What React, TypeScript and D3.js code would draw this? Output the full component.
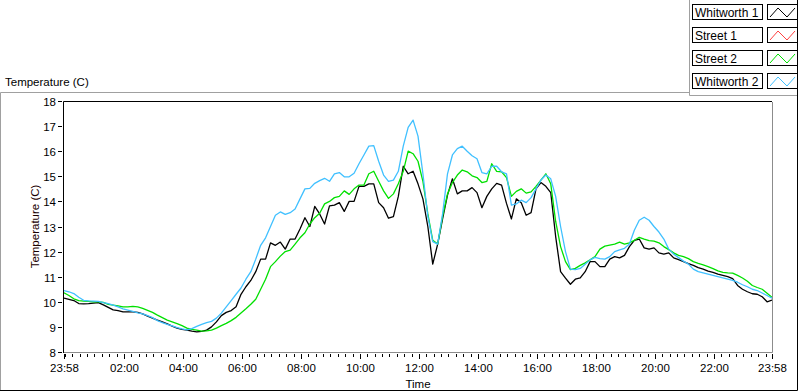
import { useEffect, useRef } from "react";
import * as d3 from "d3";

// 10-minute samples, 23:58 -> 23:58 next day
const whitworth1 = [
  10.15, 10.1, 10.05, 9.93, 9.92, 9.93, 9.95, 9.97, 9.88, 9.78,
  9.68, 9.65, 9.6, 9.6, 9.6, 9.58, 9.52, 9.43, 9.35, 9.27,
  9.2, 9.12, 9.03, 8.95, 8.9, 8.87, 8.83, 8.8, 8.82, 8.87,
  9.0, 9.2, 9.45, 9.58, 9.65, 9.8, 10.3, 10.6, 10.85, 11.2,
  11.7, 11.7, 12.35, 12.25, 12.38, 12.1, 12.5, 12.5, 12.9, 13.35,
  13.0, 13.8, 13.5, 13.1, 13.82, 13.85, 13.95, 13.6, 14.0, 14.0,
  14.6, 14.6, 14.7, 14.7, 13.95, 13.75, 13.33, 13.39, 14.2, 15.4,
  15.1, 15.2, 14.7, 14.1, 13.0, 11.5, 12.3, 13.3, 14.25, 14.9,
  14.3, 14.42, 14.42, 14.55, 14.35, 13.75, 14.2, 14.5, 14.72, 14.65,
  13.92, 13.3, 14.1, 13.95, 13.45, 13.55, 14.5, 14.75, 14.6, 14.35,
  12.6, 11.2, 10.94, 10.7, 10.9, 10.95, 11.2, 11.6, 11.6, 11.4,
  11.4, 11.7, 11.8, 11.75, 11.85, 12.2, 12.45, 12.5, 12.15, 12.1,
  12.15, 11.95, 11.9, 11.95, 11.75, 11.68, 11.6, 11.52, 11.45, 11.36,
  11.3, 11.22, 11.17, 11.1, 11.05, 11.0, 10.92, 10.65, 10.5, 10.4,
  10.32, 10.3, 10.2, 10.0, 10.07
];

const street1: number[] = [];

const street2 = [
  10.36, 10.25, 10.12, 10.05, 10.03, 10.02, 10.0, 10.0, 9.98, 9.9,
  9.87, 9.84, 9.8, 9.8, 9.82, 9.8, 9.74, 9.66, 9.58, 9.47,
  9.37, 9.27, 9.2, 9.13, 9.05, 8.95, 8.9, 8.87, 8.83, 8.84,
  8.87, 8.95, 9.05, 9.14, 9.25, 9.38, 9.55, 9.72, 9.9, 10.1,
  10.5, 10.9, 11.4, 11.6, 11.82, 12.0, 12.06, 12.3, 12.55, 12.75,
  13.1, 13.35, 13.53, 13.9, 14.0, 14.15, 14.2, 14.42, 14.28, 14.5,
  14.65, 14.65, 15.1, 15.2, 14.8, 14.42, 14.12, 14.3, 14.7, 15.2,
  16.0, 15.9, 15.6, 14.8, 13.5, 12.45, 12.3, 13.4, 14.3, 14.75,
  15.05, 15.25, 15.18, 15.02, 14.95, 14.75, 14.8, 15.5, 15.2, 15.18,
  14.95, 14.2, 14.4, 14.5, 14.33, 14.38, 14.6, 14.85, 15.1, 14.7,
  13.2, 12.2, 11.6, 11.28, 11.33, 11.45, 11.55, 11.67, 11.8, 12.1,
  12.22, 12.26, 12.3, 12.38, 12.3, 12.35, 12.45, 12.57, 12.5, 12.44,
  12.42, 12.35, 12.2, 12.08, 11.95, 11.85, 11.8, 11.72, 11.6, 11.53,
  11.47, 11.4, 11.32, 11.23, 11.17, 11.15, 11.14, 11.05, 10.95, 10.82,
  10.65, 10.57, 10.5, 10.34, 10.18
];

const whitworth2 = [
  10.45, 10.4, 10.33, 10.18, 10.06, 10.04, 10.03, 10.02, 9.97, 9.93,
  9.87, 9.8, 9.72, 9.67, 9.62, 9.56, 9.52, 9.45, 9.37, 9.25,
  9.17, 9.1, 9.04, 8.97, 8.92, 8.88, 8.93, 9.02, 9.1, 9.17,
  9.22, 9.35, 9.55, 9.8, 10.05, 10.3, 10.55, 10.9, 11.2, 11.7,
  12.25, 12.55, 13.0, 13.45, 13.58, 13.48, 13.55, 13.7, 14.1, 14.5,
  14.52, 14.72, 14.83, 14.92, 14.8, 15.1, 15.15, 14.98, 14.98, 15.12,
  15.5, 15.85, 16.2, 16.22, 15.6, 15.05, 14.8, 14.85, 15.2, 16.2,
  16.95, 17.24, 16.6, 15.1, 13.4, 12.4, 12.3, 13.5, 15.1, 15.85,
  16.1, 16.2, 16.0, 15.82, 15.7, 15.15, 15.1, 15.4, 15.4, 15.18,
  15.1, 13.85, 13.9, 14.05, 13.95, 14.15, 14.5, 14.85, 15.05, 14.9,
  14.2, 13.0, 12.0, 11.3, 11.28, 11.33, 11.5, 11.67, 11.77, 11.72,
  11.7, 11.8, 12.0, 12.07, 12.13, 12.3, 12.85, 13.25, 13.37, 13.25,
  13.0, 12.78, 12.5, 12.1, 11.9, 11.76, 11.62, 11.5, 11.3, 11.2,
  11.15, 11.1, 11.05, 11.0, 10.95, 10.9, 10.85, 10.78, 10.68, 10.6,
  10.5, 10.45, 10.35, 10.25, 10.14
];

const seriesNames = ["Whitworth 1", "Street 1", "Street 2", "Whitworth 2"];
const seriesColors = ["#000000", "#ff4040", "#00e000", "#40c0ff"];
const seriesData = [whitworth1, street1, street2, whitworth2];

const yTicks = [8, 9, 10, 11, 12, 13, 14, 15, 16, 17, 18];

const START = new Date(2013, 6, 1, 23, 58);
const END = new Date(2013, 6, 2, 23, 58);
const STEP_MS = 10 * 60 * 1000;

const FONT = "'Liberation Sans', Arial, sans-serif";

export default function App() {
  const ref = useRef<SVGSVGElement | null>(null);

  useEffect(() => {
    const svg = d3.select(ref.current);
    const W = 800, H = 392;
    const m = { l: 64, r: 772, t: 101, b: 352 };
    svg.attr("viewBox", `0 0 ${W} ${H}`);
    svg.selectAll("*").remove();

    svg.append("rect").attr("width", W).attr("height", H).attr("fill", "#fff");

    // panel frame
    svg.append("path")
      .attr("d", "M0.5,391 V92.5 H689.5 V95.5 H797")
      .attr("fill", "none").attr("stroke", "#a0a0a0");
    svg.append("path")
      .attr("d", "M689.5,0 V95")
      .attr("fill", "none").attr("stroke", "#a0a0a0");
    svg.append("path")
      .attr("d", "M0,390.5 H797.5 V0")
      .attr("fill", "none").attr("stroke", "#000");

    svg.append("text")
      .attr("x", 5).attr("y", 86)
      .attr("font-family", FONT).attr("font-size", 11.5)
      .text("Temperature (C)");

    const x = d3.scaleTime().domain([START, END]).range([m.l, m.r]);
    const y = d3.scaleLinear().domain([8, 18]).range([m.b, m.t]);

    // plot frame
    svg.append("path")
      .attr("d", `M${m.l - 0.5},${m.b + 1} V${m.t + 0.5} H${m.r}`)
      .attr("fill", "none").attr("stroke", "#000");
    svg.append("path")
      .attr("d", `M${m.l},${m.b + 0.5} H${m.r + 0.5} V${m.t + 1}`)
      .attr("fill", "none").attr("stroke", "#8c8c8c");

    // y axis
    const gy = svg.append("g").attr("font-family", FONT).attr("font-size", 11.5);
    yTicks.forEach(v => {
      const yy = Math.round(y(v)) + 0.5;
      gy.append("line")
        .attr("x1", m.l - 6).attr("x2", m.l - 2)
        .attr("y1", yy).attr("y2", yy)
        .attr("stroke", "#000");
      gy.append("text")
        .attr("x", m.l - 8).attr("y", yy)
        .attr("dy", "0.36em")
        .attr("text-anchor", "end")
        .text(v);
    });

    svg.append("text")
      .attr("transform", `translate(39,${(m.t + m.b) / 2}) rotate(-90)`)
      .attr("text-anchor", "middle")
      .attr("font-family", FONT).attr("font-size", 11.5)
      .attr("fill", "#1a0000")
      .text("Temperature (C)");

    // x axis
    const gx = svg.append("g");
    const minor = d3.timeMinute.every(15)!.range(START, END);
    minor.forEach(d => {
      const xx = Math.round(x(d)) + 0.5;
      gx.append("line")
        .attr("x1", xx).attr("x2", xx)
        .attr("y1", m.b + 2).attr("y2", m.b + 5)
        .attr("stroke", "#000");
    });
    const hours = d3.timeHour.every(2)!.range(START, END)
      .filter(d => d.getTime() - START.getTime() > 30 * 60000 && END.getTime() - d.getTime() > 30 * 60000);
    const majors = [START, ...hours, END];
    const fmt = d3.timeFormat("%H:%M");
    majors.forEach(d => {
      const xx = Math.round(x(d)) + 0.5;
      gx.append("line")
        .attr("x1", xx).attr("x2", xx)
        .attr("y1", m.b + 2).attr("y2", m.b + 7)
        .attr("stroke", "#000");
      gx.append("text")
        .attr("x", xx).attr("y", 372)
        .attr("text-anchor", "middle")
        .attr("font-family", FONT).attr("font-size", 11.5)
        .text(fmt(d));
    });

    svg.append("text")
      .attr("x", (m.l + m.r) / 2).attr("y", 388)
      .attr("text-anchor", "middle")
      .attr("font-family", FONT).attr("font-size", 11.5)
      .text("Time");

    // plots
    const clipId = "plot-clip";
    svg.append("defs").append("clipPath").attr("id", clipId)
      .append("rect")
      .attr("x", m.l).attr("y", m.t + 1)
      .attr("width", m.r - m.l).attr("height", m.b - m.t - 1);

    const line = d3.line<number>()
      .x((_, i) => x(new Date(START.getTime() + i * STEP_MS)))
      .y(d => y(d));

    const pg = svg.append("g").attr("clip-path", `url(#${clipId})`);
    seriesData.forEach((data, k) => {
      if (!data.length) return;
      pg.append("path")
        .datum(data)
        .attr("d", line)
        .attr("fill", "none")
        .attr("stroke", seriesColors[k])
        .attr("stroke-width", 1.3)
        .attr("stroke-linejoin", "round");
    });

    // legend
    const lg = svg.append("g");
    seriesNames.forEach((name, k) => {
      const top = 4 + k * 23;
      lg.append("rect")
        .attr("x", 692.5).attr("y", top + 0.5)
        .attr("width", 70).attr("height", 15)
        .attr("fill", "#fff").attr("stroke", "#000");
      lg.append("text")
        .attr("x", 695).attr("y", top + 12.5)
        .attr("font-family", FONT).attr("font-size", 12)
        .text(name);
      lg.append("rect")
        .attr("x", 767.5).attr("y", top + 0.5)
        .attr("width", 30).attr("height", 15)
        .attr("fill", "#fff").attr("stroke", "#000");
      lg.append("path")
        .attr("d", `M${770},${top + 13} L${778},${top + 4} L${787},${top + 13} L${795},${top + 4}`)
        .attr("fill", "none")
        .attr("stroke", seriesColors[k]);
    });
  }, []);

  return (
    <svg
      ref={ref}
      width={800}
      height={392}
      style={{ position: "absolute", left: 0, top: 0, display: "block" }}
    />
  );
}
